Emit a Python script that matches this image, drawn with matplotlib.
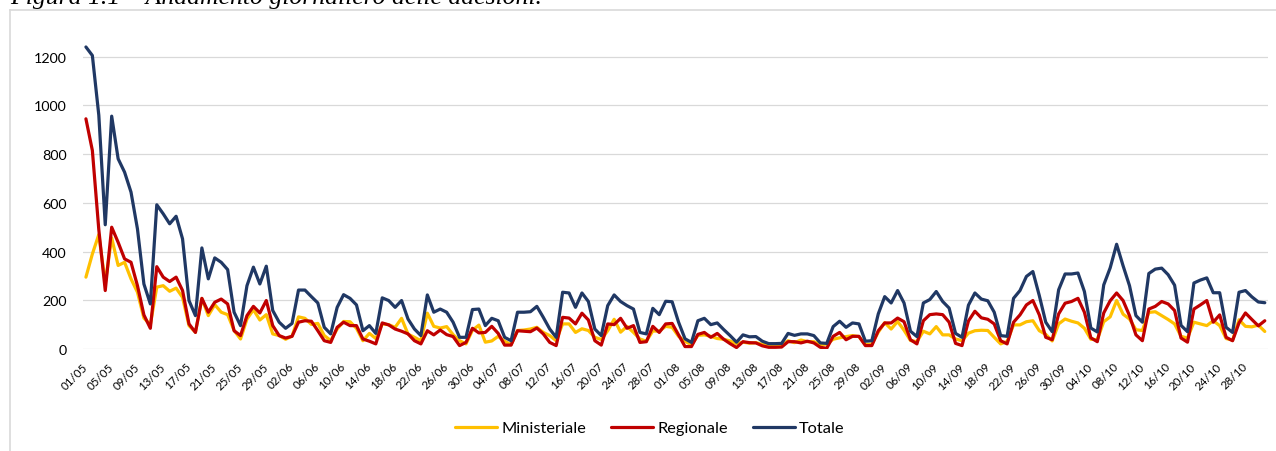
import matplotlib
matplotlib.use("Agg")
import matplotlib.pyplot as plt
from matplotlib.lines import Line2D
import pandas as pd

# ---- data ----
dates = list(pd.date_range("2021-05-01", "2021-10-31").strftime("%d/%m"))

totale = [
    1240, 1205, 960, 510, 956, 781, 726, 644, 493, 267,
    185, 592, 555, 514, 545, 452, 199, 137, 415, 288,
    374, 356, 326, 151, 96, 260, 336, 267, 340, 158,
    110, 85, 105, 242, 242, 215, 189, 89, 62, 171,
    223, 208, 181, 75, 96, 64, 210, 199, 171, 199,
    123, 82, 55, 222, 151, 164, 151, 110, 48, 48,
    162, 164, 96, 126, 116, 48, 34, 151, 151, 153,
    175, 130, 82, 48, 233, 230, 171, 230, 195, 82,
    55, 178, 222, 195, 178, 164, 68, 62, 167, 141,
    196, 194, 110, 42, 27, 116, 126, 100, 107, 80,
    55, 28, 58, 50, 51, 32, 22, 22, 23, 64,
    56, 62, 62, 55, 25, 23, 92, 114, 89, 107,
    103, 32, 34, 144, 215, 189, 240, 189, 73, 51,
    189, 203, 236, 195, 168, 64, 48, 180, 230, 205,
    198, 151, 55, 52, 208, 240, 298, 318, 219, 110,
    71, 243, 308, 308, 312, 236, 86, 70, 263, 333,
    430, 342, 260, 137, 110, 310, 328, 332, 305, 262,
    97, 71, 271, 283, 292, 231, 231, 89, 68, 233,
    240, 214, 193, 190,
]

regionale = [
    945, 815, 490, 240, 500, 438, 370, 356, 260, 140,
    85, 338, 295, 277, 295, 240, 103, 68, 208, 151,
    192, 205, 185, 75, 55, 137, 175, 148, 199, 96,
    55, 45, 52, 110, 116, 114, 75, 34, 27, 89,
    110, 96, 96, 41, 32, 21, 107, 99, 82, 73,
    62, 34, 21, 75, 58, 78, 59, 51, 14, 27,
    85, 66, 68, 93, 64, 16, 16, 75, 73, 71,
    86, 62, 27, 14, 130, 127, 103, 147, 119, 34,
    16, 103, 100, 126, 85, 96, 27, 30, 93, 68,
    103, 105, 58, 10, 10, 60, 68, 48, 64, 40,
    22, 6, 30, 26, 25, 13, 7, 7, 8, 30,
    30, 25, 32, 25, 7, 3, 52, 68, 38, 52,
    52, 14, 14, 75, 107, 107, 127, 112, 38, 21,
    116, 141, 144, 141, 110, 23, 14, 115, 155, 128,
    122, 103, 34, 21, 110, 140, 181, 199, 140, 48,
    38, 144, 188, 195, 208, 151, 46, 30, 148, 198,
    230, 199, 137, 58, 34, 164, 175, 195, 185, 158,
    45, 28, 164, 181, 199, 110, 140, 48, 34, 107,
    148, 121, 95, 116,
]

ministeriale = [
    295, 390, 470, 270, 456, 343, 356, 288, 233, 127,
    100, 254, 260, 237, 250, 212, 96, 69, 207, 137,
    182, 151, 141, 76, 41, 123, 161, 119, 141, 62,
    55, 40, 53, 132, 126, 101, 105, 55, 35, 82,
    113, 112, 85, 34, 64, 43, 103, 100, 89, 126,
    61, 48, 34, 147, 93, 86, 92, 59, 34, 21,
    77, 98, 28, 33, 52, 32, 18, 76, 78, 82,
    89, 68, 55, 34, 103, 103, 68, 83, 76, 48,
    39, 75, 122, 69, 93, 68, 41, 32, 74, 73,
    93, 89, 52, 32, 17, 56, 58, 52, 43, 40,
    33, 22, 28, 24, 26, 19, 15, 15, 15, 34,
    26, 37, 30, 30, 18, 20, 40, 46, 51, 55,
    51, 18, 20, 69, 108, 82, 113, 77, 35, 30,
    73, 62, 92, 58, 58, 41, 34, 65, 75, 77,
    76, 48, 21, 31, 99, 99, 112, 116, 75, 60,
    33, 103, 123, 114, 107, 85, 40, 38, 112, 132,
    199, 143, 123, 79, 76, 150, 153, 137, 121, 103,
    52, 45, 110, 103, 96, 116, 96, 43, 36, 120,
    93, 91, 98, 72,
]

series_names = ["Ministeriale", "Regionale", "Totale"]
series_colors = ["#FFC000", "#C00000", "#203864"]
yticks = [0, 200, 400, 600, 800, 1000, 1200]
title = "Figura 1.1 \u2013 Andamento giornaliero delle adesioni."

# ---- figure ----
W, H = 1276, 452
fig = plt.figure(figsize=(W / 100, H / 100), dpi=100)
plt.rcParams["font.family"] = ["Lato", "DejaVu Sans"]

left, right, bottom, top = 82.7, 1268.0, 350.0, 9.0
ax = fig.add_axes([left / W, 1 - bottom / H, (right - left) / W, (bottom - top) / H])

x = list(range(len(dates)))
for vals, name, col in zip([ministeriale, regionale, totale], series_names, series_colors):
    ax.plot(x, vals, color=col, lw=2.3, label=name, solid_joinstyle="round", solid_capstyle="round")

ax.set_xlim(-0.5, len(dates) - 0.5)
ax.set_ylim(0, 1400)
ax.set_yticks(yticks)
ax.set_yticklabels([str(v) for v in yticks])
ax.grid(axis="y", color="#D9D9D9", lw=0.9)
ax.set_axisbelow(True)
for s in ax.spines.values():
    s.set_visible(False)
ax.tick_params(axis="y", length=0, pad=11.5, labelsize=10.3, labelcolor="#000000")
ax.tick_params(axis="x", length=0, pad=11, labelsize=8.3, labelcolor="#000000")
ax.set_xticks(x[::4])
ax.set_xticklabels(dates[::4], rotation=45, ha="right", va="center", rotation_mode="anchor")

# legend
fig.legend(loc="center", bbox_to_anchor=(650 / W, 1 - 429 / H), ncol=3, frameon=False,
           fontsize=11.8, handlelength=2.55, handletextpad=0.25, columnspacing=1.55)

# chart border (light gray, partially cut by image edges)
bc = "#D9D9D9"
fig.add_artist(Line2D([10 / W, 1.0], [1 - 11 / H, 1 - 11 / H], transform=fig.transFigure, color=bc, lw=1.2))
fig.add_artist(Line2D([10 / W, 10 / W], [1 - 11 / H, 0.0], transform=fig.transFigure, color=bc, lw=1.2))

# caption (cut off at the top edge)
fig.text(10 / W, 1 - 4 / H, title, family=["Liberation Serif", "DejaVu Serif"], style="italic",
         fontsize=18.5, va="baseline", ha="left", color="#000000")

fig.savefig("out.png", dpi=100)
